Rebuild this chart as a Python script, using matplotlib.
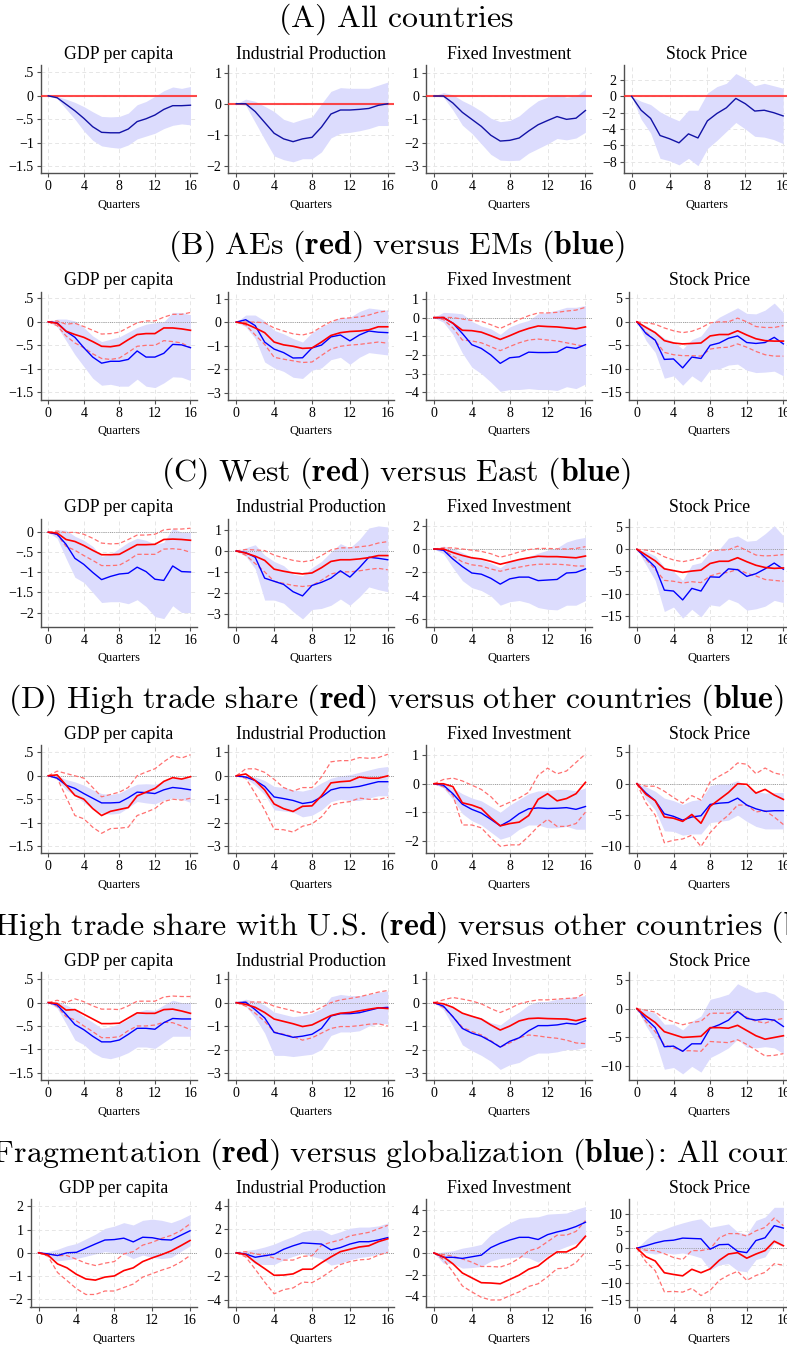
import matplotlib
matplotlib.use("Agg")
import matplotlib.pyplot as plt

# horizon (quarters)
H = list(range(17))

ROW_TITLES = [
    "(A) All countries",
    "(B) AEs (**red**) versus EMs (**blue**)",
    "(C) West (**red**) versus East (**blue**)",
    "(D) High trade share (**red**) versus other countries (**blue**)",
    "(E) High trade share with U.S. (**red**) versus other countries (**blue**)",
    "(F) Fragmentation (**red**) versus globalization (**blue**): All countries",
]
PANEL_TITLES = ["GDP per capita", "Industrial Production", "Fixed Investment", "Stock Price"]
ROWS = ["a", "b", "c", "d", "e", "f"]
VARS = ["gdp", "ip", "fi", "sp"]
X_TICKS = [0, 4, 8, 12, 16]

# ---- (A) all countries: blue IRF and band only
a_gdp_blue = [0, -.04, -.18, -.32, -.48, -.66, -.78, -.79, -.79, -.71, -.55, -.49, -.41, -.29, -.21, -.21, -.20]
a_gdp_blue_hi = [0, -.01, -.07, -.14, -.23, -.34, -.44, -.45, -.44, -.37, -.19, -.12, -.01, .11, .19, .16, .20]
a_gdp_blue_lo = [0, -.06, -.28, -.50, -.75, -.95, -1.07, -1.10, -1.12, -1.05, -.92, -.86, -.80, -.70, -.63, -.60, -.62]
a_ip_blue = [0, 0, -.25, -.60, -.95, -1.13, -1.22, -1.13, -1.08, -.75, -.33, -.20, -.20, -.18, -.15, -.05, 0]
a_ip_blue_hi = [0, .15, .08, -.08, -.25, -.50, -.60, -.50, -.42, 0, .40, .52, .50, .50, .50, .60, .70]
a_ip_blue_lo = [0, -.05, -.60, -1.15, -1.68, -1.80, -1.87, -1.77, -1.77, -1.55, -1.10, -.95, -.92, -.87, -.80, -.70, -.70]
a_fi_blue = [0, 0, -.30, -.70, -1.0, -1.30, -1.68, -1.93, -1.90, -1.80, -1.50, -1.23, -1.05, -.88, -1.0, -.95, -.62]
a_fi_blue_hi = [0, .15, .05, -.20, -.40, -.65, -.95, -1.10, -1.05, -.85, -.50, -.20, -.05, .05, -.05, 0, .30]
a_fi_blue_lo = [0, -.05, -.60, -1.25, -1.60, -2.05, -2.50, -2.75, -2.77, -2.75, -2.45, -2.25, -2.05, -1.82, -1.88, -1.80, -1.55]
a_sp_blue = [0, -1.7, -2.7, -4.8, -5.2, -5.7, -4.6, -5.1, -3.0, -2.1, -1.4, -.25, -.9, -1.8, -1.7, -2.0, -2.4]
a_sp_blue_hi = [0, -.6, -1.0, -1.9, -2.5, -3.0, -1.7, -1.7, .4, 1.2, 1.6, 2.8, 2.2, 1.3, 1.6, 1.3, 1.0]
a_sp_blue_lo = [0, -2.8, -4.5, -7.6, -7.9, -8.4, -7.6, -8.5, -6.4, -5.4, -4.3, -3.2, -4.0, -4.9, -5.0, -5.3, -5.8]

# ---- (B) AEs (red) vs EMs (blue)
b_gdp_blue = [0, -.02, -.20, -.33, -.55, -.75, -.88, -.84, -.84, -.80, -.62, -.75, -.75, -.67, -.48, -.49, -.55]
b_gdp_blue_hi = [0, .06, .06, .02, -.12, -.30, -.42, -.37, -.32, -.22, -.12, -.05, -.02, 0, .20, .20, .15]
b_gdp_blue_lo = [0, -.10, -.40, -.70, -.95, -1.20, -1.35, -1.33, -1.37, -1.37, -1.22, -1.37, -1.40, -1.30, -1.17, -1.18, -1.25]
b_gdp_red = [0, -.03, -.20, -.27, -.33, -.42, -.52, -.53, -.50, -.38, -.27, -.25, -.25, -.13, -.13, -.15, -.18]
b_gdp_red_hi = [0, .02, -.05, -.03, -.10, -.18, -.26, -.25, -.22, -.12, -.02, .02, .02, .10, .16, .16, .20]
b_gdp_red_lo = [0, -.08, -.30, -.45, -.55, -.68, -.78, -.80, -.77, -.65, -.52, -.50, -.50, -.40, -.42, -.45, -.55]
b_ip_blue = [0, .10, -.15, -.85, -1.15, -1.30, -1.53, -1.52, -1.10, -.98, -.63, -.55, -.80, -.55, -.38, -.43, -.45]
b_ip_blue_hi = [0, .30, .30, .05, -.35, -.50, -.70, -.85, -.45, -.20, 0, .20, .20, .45, .60, .55, .50]
b_ip_blue_lo = [0, -.20, -.70, -1.70, -1.95, -2.10, -2.35, -2.40, -2.05, -1.95, -1.60, -1.50, -1.80, -1.50, -1.30, -1.35, -1.40]
b_ip_red = [0, -.07, -.25, -.45, -.85, -.97, -1.03, -1.12, -1.10, -.85, -.57, -.45, -.40, -.38, -.33, -.20, -.20]
b_ip_red_hi = [0, 0, 0, -.03, -.25, -.38, -.50, -.55, -.45, -.20, .02, .15, .18, .22, .30, .42, .48]
b_ip_red_lo = [0, -.12, -.55, -.95, -1.50, -1.58, -1.65, -1.72, -1.70, -1.42, -1.15, -1.03, -.98, -.95, -.90, -.85, -.90]
b_fi_blue = [0, 0, -.30, -.85, -1.45, -1.65, -2.0, -2.45, -2.15, -2.10, -1.85, -1.87, -1.87, -1.85, -1.58, -1.65, -1.45]
b_fi_blue_hi = [0, .28, .25, .20, -.20, -.45, -.60, -.90, -.50, -.30, -.15, .20, .28, .40, .55, .55, .65]
b_fi_blue_lo = [0, -.25, -.90, -1.90, -2.65, -3.0, -3.45, -3.95, -3.85, -3.85, -3.80, -3.85, -3.85, -3.90, -3.70, -3.80, -3.55]
b_fi_red = [0, 0, -.30, -.68, -.70, -.78, -.97, -1.17, -.97, -.75, -.58, -.45, -.48, -.50, -.55, -.60, -.50]
b_fi_red_hi = [0, .02, 0, -.08, -.15, -.20, -.38, -.58, -.35, -.10, .10, .25, .25, .28, .35, .40, .55]
b_fi_red_lo = [0, -.10, -.55, -1.20, -1.25, -1.35, -1.55, -1.77, -1.55, -1.35, -1.20, -1.15, -1.20, -1.25, -1.35, -1.45, -1.55]
b_sp_blue = [0, -2.5, -3.9, -8.0, -7.9, -9.8, -7.5, -7.8, -5.0, -4.5, -3.5, -3.0, -4.4, -4.6, -4.4, -3.3, -4.7]
b_sp_blue_hi = [0, -.8, -2.0, -3.5, -4.2, -5.8, -3.8, -3.0, -.5, 1.0, 2.0, 3.0, 1.8, 1.7, 2.5, 4.0, 2.0]
b_sp_blue_lo = [0, -4.0, -6.5, -12.0, -11.5, -13.5, -11.5, -12.8, -10.2, -10.0, -9.2, -9.0, -10.3, -10.8, -10.7, -10.5, -11.5]
b_sp_red = [0, -1.2, -2.3, -4.0, -4.5, -4.7, -4.6, -4.5, -3.0, -2.7, -2.7, -1.9, -2.8, -3.6, -4.0, -4.1, -4.1]
b_sp_red_hi = [0, -.2, -.5, -1.3, -1.9, -2.3, -2.0, -1.3, -.2, 0, 0, .8, 0, -1.0, -1.2, -1.2, -.8]
b_sp_red_lo = [0, -2.2, -4.0, -6.5, -7.0, -7.2, -7.2, -7.3, -5.8, -5.5, -5.4, -4.7, -5.4, -6.3, -7.0, -7.3, -7.3]

# ---- (C) West (red) vs East (blue)
c_gdp_blue = [0, -.05, -.30, -.65, -.80, -1.0, -1.18, -1.10, -1.04, -1.02, -.87, -.98, -1.17, -1.20, -.84, -.98, -.99]
c_gdp_blue_hi = [0, .06, .05, -.10, -.20, -.35, -.60, -.55, -.40, -.25, -.15, -.20, -.30, -.25, .10, 0, 0]
c_gdp_blue_lo = [0, -.15, -.65, -1.12, -1.25, -1.50, -1.75, -1.73, -1.73, -1.78, -1.68, -1.85, -2.10, -2.15, -1.83, -2.0, -2.0]
c_gdp_red = [0, -.02, -.18, -.23, -.33, -.45, -.56, -.56, -.55, -.43, -.31, -.31, -.30, -.18, -.17, -.18, -.20]
c_gdp_red_hi = [0, .03, -.01, 0, -.05, -.15, -.27, -.29, -.28, -.18, -.07, -.07, -.05, .06, .08, .08, .10]
c_gdp_red_lo = [0, -.06, -.35, -.45, -.58, -.70, -.83, -.83, -.82, -.70, -.55, -.55, -.55, -.42, -.41, -.43, -.50]
c_ip_blue = [0, -.08, -.30, -1.30, -1.45, -1.60, -1.95, -2.15, -1.65, -1.50, -1.30, -.95, -1.25, -.80, -.30, -.35, -.42]
c_ip_blue_hi = [0, .15, .30, -.20, -.50, -.70, -1.10, -1.20, -.80, -.50, -.05, .35, .15, .55, 1.10, 1.20, 1.15]
c_ip_blue_lo = [0, -.25, -.85, -2.35, -2.35, -2.50, -2.90, -3.25, -2.80, -2.75, -2.60, -2.30, -2.60, -2.20, -1.72, -1.85, -1.95]
c_ip_red = [0, -.10, -.25, -.45, -.87, -.97, -1.05, -1.10, -1.05, -.80, -.50, -.42, -.42, -.38, -.32, -.22, -.22]
c_ip_red_hi = [0, .07, .05, .02, -.20, -.33, -.45, -.52, -.45, -.22, .05, .15, .15, .20, .25, .38, .45]
c_ip_red_lo = [0, -.20, -.60, -1.0, -1.45, -1.55, -1.65, -1.70, -1.65, -1.40, -1.10, -1.0, -1.0, -.95, -.88, -.83, -.90]
c_fi_blue = [0, -.10, -.85, -1.50, -2.05, -2.15, -2.50, -3.0, -2.55, -2.40, -2.40, -2.70, -2.65, -2.60, -2.05, -2.0, -1.70]
c_fi_blue_hi = [0, .25, .05, -.30, -.70, -.90, -1.20, -1.60, -1.0, -.90, -.65, -.35, -.10, .10, .60, .85, 1.0]
c_fi_blue_lo = [0, -.40, -1.60, -2.70, -3.30, -3.55, -4.0, -4.80, -4.50, -4.40, -4.60, -5.0, -5.15, -5.20, -4.80, -4.80, -4.40]
c_fi_red = [0, 0, -.30, -.55, -.75, -.85, -1.05, -1.30, -1.10, -.90, -.75, -.62, -.65, -.65, -.70, -.75, -.60]
c_fi_red_hi = [0, .10, .10, 0, -.10, -.20, -.40, -.70, -.50, -.25, -.05, .05, .05, .02, 0, .05, .20]
c_fi_red_lo = [0, -.10, -.60, -1.10, -1.35, -1.45, -1.70, -1.90, -1.70, -1.55, -1.40, -1.30, -1.30, -1.30, -1.35, -1.45, -1.45]
c_sp_blue = [0, -2.0, -4.0, -9.2, -9.4, -11.4, -8.8, -9.4, -6.2, -6.3, -4.4, -4.6, -6.1, -5.5, -4.4, -3.1, -4.5]
c_sp_blue_hi = [0, -.5, -1.5, -4.0, -5.0, -7.0, -3.5, -3.0, -.5, 0, 2.5, 3.0, 1.8, 2.0, 3.5, 5.3, 3.0]
c_sp_blue_lo = [0, -3.5, -7.0, -14.0, -13.0, -15.5, -13.5, -15.2, -12.5, -12.8, -11.2, -12.0, -13.7, -13.4, -12.8, -11.5, -12.0]
c_sp_red = [0, -1.3, -2.6, -4.4, -4.8, -5.2, -4.9, -4.7, -3.2, -2.7, -2.7, -1.9, -2.8, -3.6, -4.1, -4.3, -4.2]
c_sp_red_hi = [0, -.2, -.6, -1.7, -2.4, -2.8, -2.4, -1.9, -.3, -.2, -.1, .7, -.3, -1.3, -1.5, -1.4, -1.2]
c_sp_red_lo = [0, -2.3, -4.5, -7.0, -7.2, -7.6, -7.3, -7.5, -6.0, -5.4, -5.2, -4.5, -5.4, -6.0, -6.8, -7.0, -7.2]

# ---- (D) high trade share (red) vs others (blue)
d_gdp_blue = [0, -.05, -.20, -.27, -.38, -.48, -.58, -.58, -.57, -.47, -.35, -.36, -.38, -.30, -.25, -.27, -.30]
d_gdp_blue_hi = [0, 0, -.08, -.13, -.20, -.30, -.38, -.40, -.37, -.27, -.18, -.17, -.18, -.12, -.05, -.05, -.05]
d_gdp_blue_lo = [0, -.08, -.30, -.42, -.57, -.70, -.80, -.82, -.80, -.68, -.55, -.58, -.60, -.52, -.47, -.50, -.57]
d_gdp_red = [0, .02, -.20, -.42, -.50, -.70, -.85, -.76, -.72, -.68, -.43, -.35, -.27, -.12, -.04, -.07, -.02]
d_gdp_red_hi = [0, .10, .05, 0, -.05, -.25, -.45, -.40, -.35, -.25, 0, .08, .15, .30, .43, .38, .45]
d_gdp_red_lo = [0, -.05, -.45, -.85, -.92, -1.10, -1.23, -1.13, -1.12, -1.10, -.85, -.78, -.70, -.55, -.50, -.52, -.48]
d_ip_blue = [0, -.05, -.20, -.45, -.90, -.97, -1.05, -1.18, -1.12, -.90, -.60, -.50, -.50, -.45, -.35, -.25, -.25]
d_ip_blue_hi = [0, .02, -.05, -.20, -.45, -.50, -.60, -.65, -.55, -.30, -.10, 0, .05, .15, .25, .35, .40]
d_ip_blue_lo = [0, -.10, -.40, -.80, -1.45, -1.50, -1.55, -1.75, -1.68, -1.45, -1.10, -1.0, -1.05, -1.05, -.95, -.85, -.85]
d_ip_red = [0, .08, -.20, -.60, -1.20, -1.40, -1.52, -1.30, -1.28, -.85, -.30, -.25, -.22, -.05, -.10, -.10, 0]
d_ip_red_hi = [0, .30, .30, .15, -.15, -.50, -.65, -.50, -.50, -.05, .60, .65, .65, .78, .75, .78, .92]
d_ip_red_lo = [0, -.10, -.75, -1.45, -2.28, -2.30, -2.40, -2.15, -2.05, -1.75, -1.25, -1.15, -1.10, -.95, -1.0, -1.0, -.92]
d_fi_blue = [0, -.05, -.35, -.72, -.90, -1.03, -1.25, -1.48, -1.30, -1.05, -.88, -.85, -.87, -.86, -.84, -.90, -.80]
d_fi_blue_hi = [0, 0, -.15, -.35, -.50, -.60, -.80, -1.0, -.75, -.55, -.35, -.25, -.25, -.20, -.20, -.25, -.15]
d_fi_blue_lo = [0, -.15, -.55, -1.05, -1.30, -1.45, -1.70, -1.95, -1.85, -1.60, -1.45, -1.45, -1.55, -1.55, -1.50, -1.60, -1.60]
d_fi_red = [0, 0, -.10, -.67, -.75, -.87, -1.20, -1.48, -1.40, -1.35, -1.12, -.55, -.35, -.60, -.52, -.35, .05]
d_fi_red_hi = [0, .15, .20, .10, -.05, -.20, -.45, -.80, -.65, -.50, -.30, .30, .55, .35, .45, .75, 1.05]
d_fi_red_lo = [0, -.10, -.40, -1.45, -1.45, -1.55, -1.90, -2.20, -2.15, -2.15, -1.85, -1.50, -1.25, -1.50, -1.50, -1.40, -1.0]
d_sp_blue = [0, -1.5, -2.7, -4.8, -5.2, -5.8, -5.3, -5.1, -3.3, -3.1, -3.0, -2.3, -3.4, -4.0, -4.4, -4.3, -4.3]
d_sp_blue_hi = [0, -.5, -1.2, -2.3, -2.7, -3.3, -2.7, -2.5, -.3, 0, 0, .5, -.5, -1.2, -1.5, -1.4, -1.4]
d_sp_blue_lo = [0, -2.5, -4.2, -7.5, -7.6, -8.2, -8.0, -8.0, -6.2, -6.0, -5.8, -5.0, -6.0, -6.8, -7.2, -7.2, -7.2]
d_sp_red = [0, -1.7, -2.7, -5.3, -5.5, -6.0, -4.9, -6.3, -3.6, -2.5, -1.4, 0, -.1, -1.5, -.9, -1.8, -2.5]
d_sp_red_hi = [0, -.4, -.4, -1.2, -2.2, -3.1, -1.9, -2.6, .3, 1.2, 2.0, 3.3, 3.1, 1.6, 2.5, 1.7, 1.4]
d_sp_red_lo = [0, -3.1, -5.0, -9.4, -9.0, -8.8, -8.2, -10.0, -7.8, -6.2, -5.0, -3.4, -3.4, -4.5, -4.3, -5.3, -6.5]

# ---- (E) high trade share with U.S. (red) vs others (blue)
e_gdp_blue = [0, -.05, -.25, -.47, -.58, -.72, -.84, -.84, -.80, -.68, -.55, -.55, -.57, -.43, -.34, -.35, -.35]
e_gdp_blue_hi = [0, .02, -.05, -.15, -.30, -.42, -.55, -.52, -.45, -.35, -.20, -.15, -.17, -.05, .05, 0, 0]
e_gdp_blue_lo = [0, -.12, -.45, -.80, -.90, -1.07, -1.17, -1.20, -1.15, -1.07, -.95, -.95, -.98, -.85, -.72, -.72, -.72]
e_gdp_red = [0, -.02, -.16, -.15, -.25, -.35, -.45, -.45, -.44, -.33, -.22, -.23, -.23, -.15, -.14, -.18, -.23]
e_gdp_red_hi = [0, .05, 0, .08, .02, -.07, -.14, -.14, -.15, -.07, .03, .03, .03, .12, .14, .13, .13]
e_gdp_red_lo = [0, -.08, -.30, -.37, -.50, -.62, -.75, -.75, -.73, -.60, -.50, -.50, -.48, -.42, -.43, -.50, -.58]
e_ip_blue = [0, .02, -.30, -.65, -1.27, -1.37, -1.48, -1.43, -1.35, -1.10, -.57, -.47, -.47, -.43, -.33, -.23, -.20]
e_ip_blue_hi = [0, .15, .05, -.10, -.40, -.50, -.60, -.55, -.45, -.25, .25, .35, .30, .30, .35, .45, .50]
e_ip_blue_lo = [0, -.15, -.65, -1.30, -2.25, -2.25, -2.30, -2.25, -2.20, -2.0, -1.40, -1.25, -1.25, -1.20, -1.0, -.90, -.90]
e_ip_red = [0, -.07, -.20, -.42, -.70, -.80, -.90, -1.02, -.95, -.75, -.55, -.45, -.42, -.35, -.28, -.22, -.25]
e_ip_red_hi = [0, .02, .03, .02, -.15, -.25, -.35, -.45, -.40, -.20, 0, .12, .18, .25, .35, .45, .52]
e_ip_red_lo = [0, -.15, -.45, -.80, -1.25, -1.35, -1.45, -1.60, -1.50, -1.30, -1.10, -1.02, -1.02, -.98, -.92, -.90, -1.0]
e_fi_blue = [0, -.15, -.60, -1.10, -1.30, -1.43, -1.65, -1.90, -1.65, -1.50, -1.20, -.98, -.98, -.95, -.88, -.92, -.77]
e_fi_blue_hi = [0, 0, -.20, -.45, -.55, -.65, -.85, -.95, -.65, -.40, -.10, .05, .05, .15, .20, .25, .30]
e_fi_blue_lo = [0, -.30, -1.0, -1.80, -2.05, -2.25, -2.50, -2.85, -2.65, -2.55, -2.30, -2.15, -2.15, -2.10, -2.0, -2.0, -1.90]
e_fi_red = [0, -.05, -.20, -.45, -.58, -.70, -.95, -1.17, -1.0, -.78, -.68, -.66, -.68, -.69, -.70, -.77, -.67]
e_fi_red_hi = [0, .12, .22, .15, .07, -.05, -.25, -.42, -.25, -.05, .05, .12, .12, .15, .18, .20, .42]
e_fi_red_lo = [0, -.20, -.60, -1.05, -1.23, -1.38, -1.62, -1.90, -1.72, -1.50, -1.38, -1.42, -1.48, -1.52, -1.60, -1.72, -1.75]
e_sp_blue = [0, -1.8, -3.3, -6.6, -6.5, -7.4, -6.1, -6.1, -3.4, -2.8, -2.0, -.5, -1.7, -2.0, -1.8, -2.0, -3.1]
e_sp_blue_hi = [0, -.3, -.8, -2.7, -2.7, -3.7, -2.2, -1.3, 1.6, 2.0, 2.5, 4.3, 3.5, 2.8, 3.0, 2.5, 1.3]
e_sp_blue_lo = [0, -3.0, -5.5, -10.5, -10.2, -11.3, -10.0, -11.0, -8.5, -7.7, -6.8, -5.3, -6.7, -6.8, -6.6, -6.8, -7.8]
e_sp_red = [0, -1.3, -2.4, -4.0, -4.5, -5.0, -4.9, -4.8, -3.3, -3.3, -3.4, -2.9, -3.8, -4.7, -5.3, -5.0, -4.7]
e_sp_red_hi = [0, -.3, -.6, -1.7, -2.3, -2.8, -2.4, -2.2, -.8, -.8, -.8, -.5, -1.5, -2.2, -2.5, -2.0, -1.7]
e_sp_red_lo = [0, -2.3, -4.0, -6.3, -6.8, -7.3, -7.3, -7.4, -5.7, -5.8, -5.9, -5.4, -6.2, -7.2, -8.2, -8.1, -7.8]

# ---- (F) fragmentation (red) vs globalization (blue)
f_gdp_blue = [0, -.05, -.12, 0, .02, .20, .38, .55, .57, .63, .47, .67, .65, .57, .55, .75, .95]
f_gdp_blue_hi = [0, .05, .15, .30, .40, .60, .80, 1.05, 1.15, 1.30, 1.20, 1.40, 1.45, 1.40, 1.30, 1.45, 1.65]
f_gdp_blue_lo = [0, -.15, -.35, -.30, -.25, -.15, -.05, .05, 0, -.05, -.25, -.10, -.20, -.25, -.20, .05, .30]
f_gdp_red = [0, -.10, -.48, -.65, -.93, -1.13, -1.18, -1.05, -1.0, -.77, -.65, -.38, -.22, -.08, .08, .30, .53]
f_gdp_red_hi = [0, -.05, -.12, -.12, -.28, -.45, -.55, -.45, -.38, -.05, .05, .33, .45, .62, .75, .95, 1.25]
f_gdp_red_lo = [0, -.15, -.85, -1.20, -1.55, -1.80, -1.80, -1.65, -1.65, -1.50, -1.35, -1.05, -.90, -.75, -.62, -.40, -.12]
f_ip_blue = [0, -.10, -.38, -.25, -.12, .30, .60, .85, .80, .75, .25, .45, .75, .95, .95, 1.10, 1.30]
f_ip_blue_hi = [0, .20, .30, .50, .75, 1.10, 1.40, 1.80, 1.95, 1.95, 1.55, 1.80, 2.10, 2.20, 2.20, 2.30, 2.55]
f_ip_blue_lo = [0, -.30, -.95, -1.0, -1.0, -.60, -.30, -.05, -.30, -.50, -1.05, -.90, -.60, -.40, -.30, -.10, .05]
f_ip_red = [0, -.15, -.80, -1.35, -1.92, -1.90, -1.80, -1.40, -1.40, -.85, -.35, .10, .30, .50, .60, .95, 1.20]
f_ip_red_hi = [0, .10, -.10, -.20, -.45, -.62, -.62, -.30, -.25, .65, .90, 1.10, 1.45, 1.60, 1.75, 2.05, 2.35]
f_ip_red_lo = [0, -.35, -1.40, -2.50, -3.50, -3.15, -3.0, -2.50, -2.55, -2.10, -1.55, -1.0, -.75, -.60, -.55, -.20, .05]
f_fi_blue = [0, -.40, -.40, -.50, -.35, -.20, .50, .90, 1.20, 1.45, 1.45, 1.25, 1.70, 1.95, 2.15, 2.45, 2.85]
f_fi_blue_hi = [0, .10, .20, .45, .60, .80, 1.70, 2.30, 2.80, 3.20, 3.30, 3.35, 3.60, 3.65, 3.70, 4.05, 4.30]
f_fi_blue_lo = [0, -.95, -1.0, -1.40, -1.35, -1.25, -.75, -.50, -.45, -.35, -.45, -.85, -.25, .25, .60, .90, 1.40]
f_fi_red = [0, -.35, -1.0, -1.85, -2.30, -2.75, -2.78, -2.85, -2.45, -2.05, -1.50, -1.20, -.50, .10, .10, .55, 1.55]
f_fi_red_hi = [0, -.15, -.30, -.55, -.85, -1.25, -1.25, -1.30, -1.0, -.50, .20, .45, 1.05, 1.65, 1.65, 2.0, 3.0]
f_fi_red_lo = [0, -.60, -1.75, -3.05, -3.60, -4.10, -4.35, -4.35, -3.95, -3.60, -3.10, -2.85, -2.20, -1.45, -1.40, -.90, .10]
f_sp_blue = [0, .7, 1.5, 2.1, 2.3, 2.9, 2.8, 2.7, -.3, 1.0, 1.1, -.9, -1.3, 2.2, 3.0, 6.5, 5.8]
f_sp_blue_hi = [0, 2.5, 4.5, 5.5, 6.5, 7.3, 8.0, 8.5, 6.0, 6.5, 7.0, 4.7, 4.0, 8.0, 9.0, 11.8, 11.8]
f_sp_blue_lo = [0, -1.3, -1.7, -1.3, -1.7, -1.4, -2.0, -2.8, -6.3, -4.8, -4.5, -6.5, -6.8, -3.3, -2.5, 1.5, .4]
f_sp_red = [0, -2.5, -3.7, -7.1, -7.6, -8.0, -6.1, -7.1, -6.0, -3.5, -1.7, -1.3, -2.9, -1.7, -.7, 2.0, .7]
f_sp_red_hi = [0, -.6, -.7, -1.6, -2.7, -3.3, -.7, -.7, -.2, 3.0, 4.2, 4.2, 3.5, 5.0, 6.0, 8.7, 6.5]
f_sp_red_lo = [0, -4.0, -6.5, -12.6, -12.5, -12.7, -11.6, -13.7, -12.2, -9.3, -7.8, -6.7, -9.3, -7.9, -7.0, -4.5, -4.9]

# y axis ticks and ranges per row (gdp, ip, fi, sp)
a_yticks = [[.5, 0, -.5, -1, -1.5], [1, 0, -1, -2], [1, 0, -1, -2, -3], [2, 0, -2, -4, -6, -8]]
b_yticks = [[.5, 0, -.5, -1, -1.5], [1, 0, -1, -2, -3], [1, 0, -1, -2, -3, -4], [5, 0, -5, -10, -15]]
c_yticks = [[0, -.5, -1, -1.5, -2], [1, 0, -1, -2, -3], [2, 0, -2, -4, -6], [5, 0, -5, -10, -15]]
d_yticks = [[.5, 0, -.5, -1, -1.5], [1, 0, -1, -2, -3], [1, 0, -1, -2], [5, 0, -5, -10]]
e_yticks = [[.5, 0, -.5, -1, -1.5], [1, 0, -1, -2, -3], [1, 0, -1, -2, -3], [5, 0, -5, -10]]
f_yticks = [[2, 1, 0, -1, -2], [4, 2, 0, -2, -4], [4, 2, 0, -2, -4], [10, 5, 0, -5, -10, -15]]

a_ylims = [(-1.65, .66), (-2.23, 1.25), (-3.3, 1.33), (-9.4, 3.85)]
b_ylims = [(-1.66, .64), (-3.31, 1.29), (-4.4, 1.38), (-16.6, 6.4)]
c_ylims = [(-2.35, .34), (-3.62, 1.55), (-6.63, 2.6), (-17.4, 6.9)]
d_ylims = [(-1.66, .65), (-3.31, 1.3), (-2.45, 1.35), (-11.1, 6.1)]
e_ylims = [(-1.66, .65), (-3.31, 1.3), (-3.31, 1.3), (-12.4, 6.3)]
f_ylims = [(-2.34, 2.32), (-4.63, 4.6), (-5.0, 5.0), (-17.0, 14.2)]

# layout in pixels
FIG_W, FIG_H = 787, 1345
CELL_W = 197.7
ROW_TOP0, ROW_PITCH, AX_H = 65, 226.8, 108
TITLE_Y0, TITLE_PITCH, TITLE_CX = 19, 227, 396
LEFT_MARGIN = {2: 30.5, 3: 36.0, 4: 40.7}

BAND = "#dcdcfd"
NAVY = "#1212a6"
RED_DASH = "#ff7070"
AXIS_GREY = "#505050"


def tick_label(v):
    if float(v).is_integer():
        s = str(int(v))
    else:
        s = f"{v:g}".replace("0.", ".")
    return s.replace("-", "\u2212")


def to_math(s):
    out = []
    for i, part in enumerate(s.split("**")):
        if not part:
            continue
        if i % 2:
            out.append(r"\mathbf{%s}" % part.replace(" ", r"\ "))
        else:
            part = part.replace(" ", r"\ ").replace(".", r".\!").replace(":", r"\!:\!")
            out.append(r"\mathrm{%s}" % part)
    return "$" + "".join(out) + "$"


def get(name):
    return globals()[name]


def main():
    plt.rcParams["font.family"] = "Liberation Serif"
    plt.rcParams["mathtext.fontset"] = "cm"

    fig = plt.figure(figsize=(FIG_W / 100, FIG_H / 100), dpi=100)
    fig.patch.set_facecolor("white")

    for r, row in enumerate(ROWS):
        top = ROW_TOP0 + ROW_PITCH * r
        ty = TITLE_Y0 + TITLE_PITCH * r
        fig.text(TITLE_CX / FIG_W, 1 - ty / FIG_H, to_math(ROW_TITLES[r]),
                 ha="center", va="center", fontsize=23)

        for c, var in enumerate(VARS):
            ticks = get(f"{row}_yticks")[c]
            labels = [tick_label(t) for t in ticks]
            n = max(len(s) for s in labels)
            left = c * CELL_W + LEFT_MARGIN[n]
            right = (c + 1) * CELL_W - 1
            ax = fig.add_axes([left / FIG_W, 1 - (top + AX_H) / FIG_H,
                               (right - left) / FIG_W, AX_H / FIG_H])

            blue = get(f"{row}_{var}_blue")
            lo = get(f"{row}_{var}_blue_lo")
            hi = get(f"{row}_{var}_blue_hi")
            ax.fill_between(H, lo, hi, color=BAND, lw=0, zorder=1)

            if row == "a":
                ax.axhline(0, color="#ff2a2a", lw=1.5, alpha=0.85, zorder=3)
                ax.plot(H, blue, color=NAVY, lw=1.0, zorder=4)
            else:
                ax.axhline(0, color="#9a9a9a", lw=0.7, ls=(0, (1, 1.2)), zorder=2)
                ax.plot(H, get(f"{row}_{var}_red_hi"), color=RED_DASH, lw=0.9,
                        ls=(0, (3.5, 2)), zorder=3)
                ax.plot(H, get(f"{row}_{var}_red_lo"), color=RED_DASH, lw=0.9,
                        ls=(0, (3.5, 2)), zorder=3)
                ax.plot(H, blue, color="#0000ff", lw=1.0, zorder=4)
                ax.plot(H, get(f"{row}_{var}_red"), color="#ff0000", lw=1.2, zorder=5)

            ax.set_xlim(-0.85, 16.7)
            ax.set_ylim(*get(f"{row}_ylims")[c])
            ax.set_xticks(X_TICKS)
            ax.set_yticks(ticks)
            ax.set_yticklabels(labels)
            ax.grid(True, color="#e6e6e6", lw=0.7, ls=(0, (4, 3)))
            ax.set_axisbelow(True)
            for side in ("top", "right"):
                ax.spines[side].set_visible(False)
            for side in ("left", "bottom"):
                ax.spines[side].set_color(AXIS_GREY)
                ax.spines[side].set_linewidth(1.0)
            ax.tick_params(direction="out", length=3, width=0.8, color=AXIS_GREY,
                           labelsize=10, pad=2)
            ax.set_title(PANEL_TITLES[c], fontsize=12.8, pad=4.6)
            ax.set_xlabel("Quarters", fontsize=9, labelpad=4)

    fig.savefig("out.png", dpi=100, facecolor="white")


if __name__ == "__main__":
    main()
